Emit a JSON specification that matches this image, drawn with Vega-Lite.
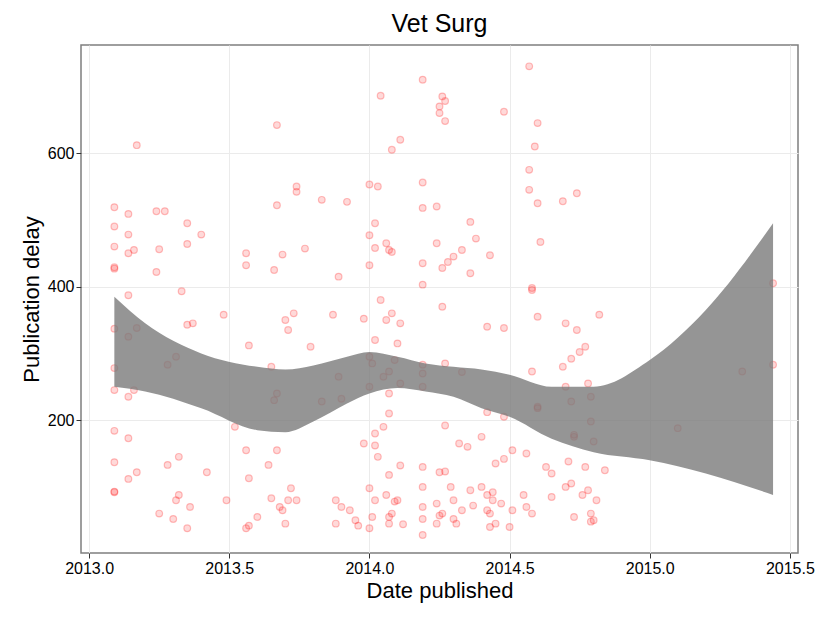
{
  "$schema": "https://vega.github.io/schema/vega-lite/v6.json",
  "autosize": {"type": "fit", "contains": "padding"},
  "width": 825,
  "height": 618,
  "padding": {"left": 20, "right": 11, "top": 12, "bottom": 17},
  "background": "white",
  "title": {"text": "Vet Surg", "fontSize": 25, "font": "Liberation Sans", "fontWeight": "normal", "color": "black", "anchor": "middle", "offset": 8},
  "config": {
    "view": {"stroke": "#7f7f7f", "strokeWidth": 1.5},
    "axis": {"grid": true, "gridColor": "#ebebeb", "domain": false, "tickColor": "#333", "labelFont": "Liberation Sans", "labelFontSize": 16, "labelColor": "black", "titleFont": "Liberation Sans", "titleFontSize": 22, "titleFontWeight": "normal", "titleColor": "black"}
  },
  "datasets": {
    "band": [
      {"x": 2013.09, "lo": 250, "hi": 385},
      {"x": 2013.2, "lo": 243, "hi": 345},
      {"x": 2013.4, "lo": 218, "hi": 300},
      {"x": 2013.6, "lo": 185, "hi": 280},
      {"x": 2013.7, "lo": 182, "hi": 276},
      {"x": 2013.8, "lo": 198, "hi": 282},
      {"x": 2013.92, "lo": 225, "hi": 295},
      {"x": 2014.0, "lo": 240, "hi": 302},
      {"x": 2014.1, "lo": 248, "hi": 295},
      {"x": 2014.2, "lo": 243, "hi": 285},
      {"x": 2014.3, "lo": 235, "hi": 280},
      {"x": 2014.4, "lo": 218, "hi": 276},
      {"x": 2014.5, "lo": 205, "hi": 268},
      {"x": 2014.65, "lo": 172, "hi": 250},
      {"x": 2014.8, "lo": 152, "hi": 250},
      {"x": 2015.0, "lo": 140, "hi": 290},
      {"x": 2015.2, "lo": 120, "hi": 365},
      {"x": 2015.44, "lo": 88, "hi": 495}
    ],
    "pts": [
      {"x":2013.09,"y":519},{"x":2013.09,"y":490},{"x":2013.09,"y":460},{"x":2013.09,"y":427},{"x":2013.09,"y":429},{"x":2013.09,"y":337},{"x":2013.09,"y":278},{"x":2013.09,"y":245},{"x":2013.09,"y":184},{"x":2013.09,"y":137},{"x":2013.09,"y":92},{"x":2013.09,"y":93},
      {"x":2013.14,"y":509},{"x":2013.14,"y":478},{"x":2013.14,"y":450},{"x":2013.14,"y":387},{"x":2013.14,"y":325},{"x":2013.14,"y":235},{"x":2013.14,"y":173},{"x":2013.14,"y":112},
      {"x":2013.16,"y":455},{"x":2013.17,"y":612},{"x":2013.17,"y":338},{"x":2013.16,"y":245},{"x":2013.17,"y":122},
      {"x":2013.24,"y":513},{"x":2013.25,"y":456},{"x":2013.24,"y":422},{"x":2013.25,"y":60},
      {"x":2013.27,"y":513},{"x":2013.28,"y":283},{"x":2013.28,"y":133},
      {"x":2013.31,"y":295},{"x":2013.31,"y":80},{"x":2013.3,"y":52},{"x":2013.32,"y":145},{"x":2013.32,"y":88},{"x":2013.33,"y":393},
      {"x":2013.35,"y":495},{"x":2013.35,"y":464},{"x":2013.35,"y":343},{"x":2013.35,"y":38},{"x":2013.36,"y":70},{"x":2013.37,"y":345},
      {"x":2013.4,"y":478},{"x":2013.42,"y":122},{"x":2013.48,"y":358},{"x":2013.49,"y":80},{"x":2013.52,"y":190},
      {"x":2013.56,"y":450},{"x":2013.56,"y":432},{"x":2013.57,"y":312},{"x":2013.56,"y":155},{"x":2013.57,"y":113},{"x":2013.56,"y":38},{"x":2013.57,"y":42},{"x":2013.6,"y":55},
      {"x":2013.65,"y":280},{"x":2013.64,"y":133},{"x":2013.65,"y":83},{"x":2013.66,"y":425},
      {"x":2013.67,"y":642},{"x":2013.67,"y":522},{"x":2013.66,"y":230},{"x":2013.67,"y":240},{"x":2013.67,"y":155},{"x":2013.68,"y":70},{"x":2013.69,"y":65},
      {"x":2013.69,"y":448},{"x":2013.7,"y":350},{"x":2013.7,"y":45},{"x":2013.71,"y":335},{"x":2013.72,"y":98},{"x":2013.71,"y":80},
      {"x":2013.74,"y":550},{"x":2013.74,"y":542},{"x":2013.73,"y":360},{"x":2013.74,"y":80},{"x":2013.77,"y":457},{"x":2013.79,"y":310},
      {"x":2013.83,"y":530},{"x":2013.83,"y":228},{"x":2013.87,"y":358},{"x":2013.88,"y":80},{"x":2013.88,"y":45},
      {"x":2013.89,"y":415},{"x":2013.89,"y":265},{"x":2013.9,"y":232},{"x":2013.9,"y":70},{"x":2013.92,"y":527},{"x":2013.93,"y":65},
      {"x":2013.95,"y":50},{"x":2013.96,"y":42},{"x":2013.98,"y":352},{"x":2013.98,"y":165},
      {"x":2014.0,"y":553},{"x":2014.0,"y":477},{"x":2014.0,"y":432},{"x":2014.0,"y":295},{"x":2014.01,"y":285},{"x":2014.0,"y":250},{"x":2014.0,"y":98},{"x":2014.01,"y":55},{"x":2014.0,"y":38},
      {"x":2014.02,"y":495},{"x":2014.02,"y":458},{"x":2014.03,"y":550},{"x":2014.02,"y":320},{"x":2014.02,"y":180},{"x":2014.02,"y":162},{"x":2014.03,"y":145},{"x":2014.02,"y":80},
      {"x":2014.04,"y":686},{"x":2014.04,"y":380},{"x":2014.05,"y":265},{"x":2014.05,"y":190},
      {"x":2014.06,"y":465},{"x":2014.07,"y":455},{"x":2014.06,"y":350},{"x":2014.07,"y":273},{"x":2014.07,"y":240},{"x":2014.07,"y":210},{"x":2014.07,"y":118},{"x":2014.06,"y":88},{"x":2014.07,"y":55},{"x":2014.07,"y":45},
      {"x":2014.08,"y":605},{"x":2014.08,"y":452},{"x":2014.08,"y":360},{"x":2014.09,"y":290},{"x":2014.09,"y":78},{"x":2014.08,"y":60},
      {"x":2014.11,"y":620},{"x":2014.11,"y":345},{"x":2014.1,"y":315},{"x":2014.11,"y":255},{"x":2014.11,"y":132},{"x":2014.1,"y":80},{"x":2014.12,"y":44},
      {"x":2014.19,"y":710},{"x":2014.19,"y":556},{"x":2014.19,"y":518},{"x":2014.19,"y":435},{"x":2014.19,"y":403},{"x":2014.19,"y":283},{"x":2014.19,"y":270},{"x":2014.19,"y":250},{"x":2014.19,"y":130},{"x":2014.19,"y":100},{"x":2014.19,"y":70},{"x":2014.19,"y":52},{"x":2014.19,"y":28},
      {"x":2014.24,"y":520},{"x":2014.24,"y":465},{"x":2014.24,"y":45},{"x":2014.24,"y":75},{"x":2014.25,"y":122},
      {"x":2014.25,"y":670},{"x":2014.25,"y":660},{"x":2014.26,"y":685},{"x":2014.26,"y":428},{"x":2014.26,"y":370},{"x":2014.25,"y":57},{"x":2014.26,"y":60},
      {"x":2014.27,"y":678},{"x":2014.27,"y":648},{"x":2014.28,"y":437},{"x":2014.27,"y":285},{"x":2014.27,"y":192},{"x":2014.27,"y":123},
      {"x":2014.3,"y":445},{"x":2014.29,"y":100},{"x":2014.3,"y":80},{"x":2014.3,"y":52},{"x":2014.31,"y":45},
      {"x":2014.33,"y":455},{"x":2014.33,"y":272},{"x":2014.32,"y":165},{"x":2014.33,"y":65},
      {"x":2014.36,"y":497},{"x":2014.36,"y":420},{"x":2014.35,"y":160},{"x":2014.36,"y":95},{"x":2014.38,"y":472},{"x":2014.37,"y":72},
      {"x":2014.4,"y":175},{"x":2014.4,"y":100},
      {"x":2014.43,"y":447},{"x":2014.42,"y":340},{"x":2014.42,"y":212},{"x":2014.42,"y":88},{"x":2014.42,"y":65},{"x":2014.43,"y":60},{"x":2014.43,"y":40},
      {"x":2014.44,"y":80},{"x":2014.44,"y":92},{"x":2014.45,"y":135},{"x":2014.45,"y":45},
      {"x":2014.48,"y":662},{"x":2014.48,"y":338},{"x":2014.48,"y":205},{"x":2014.48,"y":142},{"x":2014.47,"y":75},
      {"x":2014.51,"y":155},{"x":2014.51,"y":65},{"x":2014.5,"y":40},
      {"x":2014.55,"y":88},{"x":2014.56,"y":70},{"x":2014.56,"y":150},
      {"x":2014.57,"y":730},{"x":2014.57,"y":575},{"x":2014.57,"y":545},{"x":2014.58,"y":395},{"x":2014.58,"y":398},{"x":2014.58,"y":273},{"x":2014.6,"y":220},{"x":2014.58,"y":60},
      {"x":2014.59,"y":610},{"x":2014.6,"y":645},{"x":2014.6,"y":525},{"x":2014.61,"y":467},{"x":2014.6,"y":355},{"x":2014.6,"y":218},
      {"x":2014.63,"y":130},{"x":2014.65,"y":85},{"x":2014.65,"y":120},
      {"x":2014.69,"y":528},{"x":2014.7,"y":345},{"x":2014.69,"y":280},{"x":2014.7,"y":250},{"x":2014.7,"y":100},
      {"x":2014.72,"y":292},{"x":2014.72,"y":228},{"x":2014.73,"y":175},{"x":2014.71,"y":138},{"x":2014.72,"y":105},{"x":2014.73,"y":55},
      {"x":2014.74,"y":540},{"x":2014.75,"y":302},{"x":2014.74,"y":335},{"x":2014.73,"y":178},{"x":2014.76,"y":88},
      {"x":2014.77,"y":310},{"x":2014.78,"y":255},{"x":2014.77,"y":130},{"x":2014.78,"y":95},
      {"x":2014.79,"y":235},{"x":2014.79,"y":198},{"x":2014.8,"y":168},{"x":2014.79,"y":60},{"x":2014.79,"y":48},{"x":2014.8,"y":50},
      {"x":2014.82,"y":358},{"x":2014.81,"y":80},{"x":2014.84,"y":125},
      {"x":2015.1,"y":188},{"x":2015.33,"y":273},{"x":2015.44,"y":405},{"x":2015.44,"y":283}
    ]
  },
  "layer": [
    {
      "data": {"name": "pts"},
      "mark": {"type": "point", "filled": false, "fill": "#ff0000", "fillOpacity": 0.15, "stroke": "#ff0000", "strokeOpacity": 0.25, "size": 45, "strokeWidth": 1.2},
      "encoding": {
        "x": {"field": "x", "type": "quantitative", "title": "Date published", "scale": {"domain": [2012.971, 2015.529], "nice": false, "zero": false}, "axis": {"values": [2013, 2013.5, 2014, 2014.5, 2015, 2015.5], "format": ".1f"}},
        "y": {"field": "y", "type": "quantitative", "title": "Publication delay", "scale": {"domain": [1, 762], "nice": false}, "axis": {"values": [200, 400, 600]}}
      }
    },
    {
      "data": {"name": "band"},
      "mark": {"type": "area", "color": "#7a7a7a", "opacity": 0.8, "interpolate": "monotone"},
      "encoding": {
        "x": {"field": "x", "type": "quantitative"},
        "y": {"field": "lo", "type": "quantitative"},
        "y2": {"field": "hi"}
      }
    }
  ]
}
